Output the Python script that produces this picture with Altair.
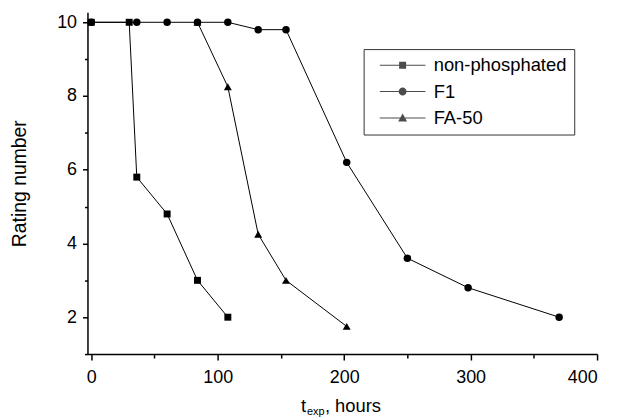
import altair as alt
import pandas as pd

# ---- data ----
series_names = ["non-phosphated", "F1", "FA-50"]

np_x = [0, 30, 36, 60, 84, 108]
np_y = [10, 10, 5.8, 4.8, 3.0, 2.0]

f1_x = [0, 36, 60, 84, 108, 132, 154, 202, 250, 298, 370]
f1_y = [10, 10, 10, 10, 10, 9.8, 9.8, 6.2, 3.6, 2.8, 2.0]

fa_x = [84, 108, 132, 154, 202]
fa_y = [10, 8.25, 4.25, 3.0, 1.75]

x_major = [0, 100, 200, 300, 400]
x_minor = [50, 150, 250, 350]
y_major = [2, 4, 6, 8, 10]
y_minor = [1, 3, 5, 7, 9]

rows = []
# draw order: FA-50 first, then F1, then non-phosphated on top
for name, xs, ys in [("FA-50", fa_x, fa_y), ("F1", f1_x, f1_y), ("non-phosphated", np_x, np_y)]:
    for xv, yv in zip(xs, ys):
        rows.append({"series": name, "t": xv, "r": yv})
df = pd.DataFrame(rows)

FONT = "Liberation Sans"

xscale = alt.Scale(domain=[-3, 400], nice=False, zero=False)
yscale = alt.Scale(domain=[1, 10.27], nice=False, zero=False)

x_axis_major = alt.Axis(values=x_major, tickSize=6, labelPadding=9, title=None,
                        grid=False, orient="bottom")
y_axis_major = alt.Axis(values=y_major, tickSize=5, labelPadding=6,
                        title="Rating number", titlePadding=27, titleFontSize=19.5,
                        titleFontWeight="normal", titleFont=FONT, titleColor="black",
                        grid=False, orient="left")
x_axis_minor = alt.Axis(values=x_minor, tickSize=4, labels=False, domain=False,
                        title=None, grid=False, orient="bottom")
y_axis_minor = alt.Axis(values=y_minor, tickSize=3, labels=False, domain=False,
                        title=None, grid=False, orient="left")

base = alt.Chart(df)

lines = base.mark_line(color="black", strokeWidth=1).encode(
    x=alt.X("t:Q", scale=xscale, axis=x_axis_major),
    y=alt.Y("r:Q", scale=yscale, axis=y_axis_major),
    detail="series:N",
)

points = base.mark_point(filled=True, color="black", opacity=1).encode(
    x=alt.X("t:Q", scale=xscale, axis=None),
    y=alt.Y("r:Q", scale=yscale, axis=None),
    shape=alt.Shape("series:N", scale=alt.Scale(domain=series_names,
                                                 range=["square", "circle", "triangle-up"]),
                    legend=None),
    size=alt.Size("series:N", scale=alt.Scale(domain=series_names, range=[49, 64, 72]),
                  legend=None),
)

# legend-only layer: custom symbols (thin bar + marker), 8 px per path unit
bar = "M-2.875,-0.0625L2.875,-0.0625L2.875,0.0625L-2.875,0.0625Z"
sym_square = bar + "M-0.44,-0.44L0.44,-0.44L0.44,0.44L-0.44,0.44Z"
sym_circle = bar + "M0.5,0A0.5,0.5,0,1,1,-0.5,0A0.5,0.5,0,1,1,0.5,0Z"
sym_tri = bar + "M0,-0.56L0.56,0.44L-0.56,0.44Z"

legend_layer = base.mark_point(filled=True, color="black").encode(
    x=alt.X("t:Q", scale=xscale, axis=x_axis_minor),
    y=alt.Y("r:Q", scale=yscale, axis=y_axis_minor),
    shape=alt.Shape(
        "series:N",
        scale=alt.Scale(domain=series_names, range=[sym_square, sym_circle, sym_tri]),
        legend=alt.Legend(
            title=None,
            orient="none",
            legendX=278,
            legendY=37,
            symbolSize=256,
            symbolStrokeWidth=0,
            symbolFillColor="black",
            symbolOffset=23,
            labelFont=FONT,
            labelFontSize=18.5,
            labelColor="black",
            labelOffset=22,
            labelExpr="datum.label + '   '",
            rowPadding=7.5,
            padding=7,
            strokeColor="#333333",
            fillColor="white",
            labelLimit=300,
        ),
    ),
).transform_filter("false")

title_data = pd.DataFrame({"k": [0]})
t_main = alt.Chart(title_data).mark_text(
    text="t", font=FONT, fontSize=18.5, align="left", baseline="alphabetic", color="black"
).encode(x=alt.value(215), y=alt.value(402))
t_sub = alt.Chart(title_data).mark_text(
    text="exp", font=FONT, fontSize=11, align="left", baseline="alphabetic", color="black"
).encode(x=alt.value(221), y=alt.value(405))
t_rest = alt.Chart(title_data).mark_text(
    text=", hours", font=FONT, fontSize=18.5, align="left", baseline="alphabetic", color="black"
).encode(x=alt.value(239), y=alt.value(402))

chart = (
    alt.layer(lines, points, legend_layer, t_main, t_sub, t_rest)
    .resolve_scale(shape="independent", size="independent")
    .resolve_axis(x="independent", y="independent")
    .properties(
        width=513,
        height=344,
        autosize=alt.AutoSizeParams(type="none"),
        padding={"left": 80, "top": 3, "right": 12, "bottom": 63},
        background="white",
    )
    .configure_view(stroke=None)
    .configure_axis(
        domainColor="black",
        domainWidth=1.5,
        tickColor="black",
        tickWidth=1.5,
        labelFont=FONT,
        labelFontSize=18,
        labelColor="black",
    )
)

chart.save("out.html", embed_options={"renderer": "svg", "actions": False})
